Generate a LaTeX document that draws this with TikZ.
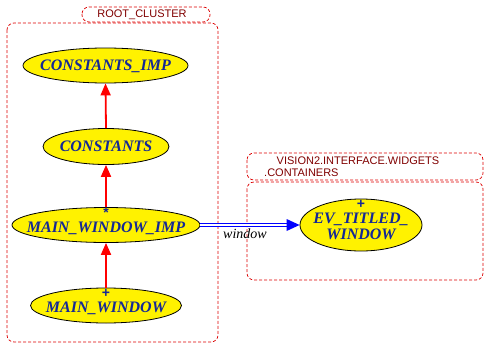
\documentclass[tikz,border=0pt]{standalone}
\usepackage{fontspec}
\setmainfont{Liberation Serif}
\setsansfont{Liberation Sans}
\usetikzlibrary{shapes.geometric,arrows.meta,calc}
\definecolor{clsred}{RGB}{220,0,0}
\definecolor{lblred}{RGB}{128,0,0}
\definecolor{txtblue}{RGB}{20,40,150}
\begin{document}
\begin{tikzpicture}[x=1pt,y=-1pt,
  cls/.style={ellipse,draw=black,line width=0.8pt,fill=yellow,inner sep=0pt},
  ctext/.style={font=\fontsize{16}{16}\selectfont\bfseries\itshape,text=txtblue,inner sep=0pt,text height=11pt,text depth=1.5pt},
  markt/.style={font=\fontsize{14}{14}\selectfont\sffamily\bfseries,text=txtblue,inner sep=0pt,text height=6pt,text depth=0pt},
  cluster/.style={draw=clsred,dash pattern=on 3pt off 2pt,line width=0.7pt,rounded corners=7pt},
  clabel/.style={font=\fontsize{11}{12}\selectfont\sffamily,text=lblred,inner sep=0pt},
  inherit/.style={draw=red,line width=1.8pt,-{Triangle[length=12pt,width=10pt]}},
  client/.style={draw=blue,double=white,double distance=1.6pt,line width=1pt}]
\useasboundingbox (0,0) rectangle (492,348);
% clusters
\draw[cluster] (82,7) rectangle (210,22);
\node[clabel] (rootlbl) at (142,14.5) {ROOT\_CLUSTER};
\draw[cluster] (7,23) rectangle (218,342);
\draw[cluster] (247,153) rectangle (483,180);
\node[clabel] (vislbl) at (358,161) {VISION2.INTERFACE.WIDGETS};
\node[clabel,anchor=west] (vislbl2) at (264,173) {.CONTAINERS};
\draw[cluster] (247,182) rectangle (483,280);
% classes
\node[cls,minimum width=165pt,minimum height=35pt] (ci) at (105.5,65.5) {};
\node[ctext] (cit) at (ci.center) {CONSTANTS\_IMP};
\node[cls,minimum width=126pt,minimum height=36pt] (c) at (106,146.5) {};
\node[ctext] (ct) at (c.center) {CONSTANTS};
\node[cls,minimum width=188pt,minimum height=35pt] (mwi) at (106,225) {};
\node[ctext] (mwit) at ($(mwi.center)+(0,3)$) {MAIN\_WINDOW\_IMP};
\node[markt] (mwim) at ($(mwi.center)+(0,-11)$) {*};
\node[cls,minimum width=151pt,minimum height=35pt] (mw) at (106,305.5) {};
\node[ctext] (mwt) at ($(mw.center)+(0,2.5)$) {MAIN\_WINDOW};
\node[markt] (mwm) at ($(mw.center)+(0,-11)$) {+};
\node[cls,minimum width=122pt,minimum height=52pt] (ev) at (361,225) {};
\node[ctext] (evt1) at ($(ev.center)+(0,-6)$) {EV\_TITLED\_};
\node[ctext] (evt2) at ($(ev.center)+(0,10)$) {WINDOW};
\node[markt] (evm) at ($(ev.center)+(0,-20)$) {+};
% inheritance
\draw[inherit] (c.north) -- (ci.south);
\draw[inherit] (mwi.north) -- (c.south);
\draw[inherit] (mw.north) -- (mwi.south);
% client
\coordinate (tipstart) at ($(ev.west)+(-13,0)$);
\draw[client] (mwi.east) -- (tipstart);
\fill[blue] (ev.west) -- ($(ev.west)+(-13,-6)$) -- ($(ev.west)+(-13,6)$) -- cycle;
\node[font=\fontsize{14}{14}\selectfont\itshape,inner sep=0pt] (wl) at (245,234) {window};
\end{tikzpicture}
\end{document}
